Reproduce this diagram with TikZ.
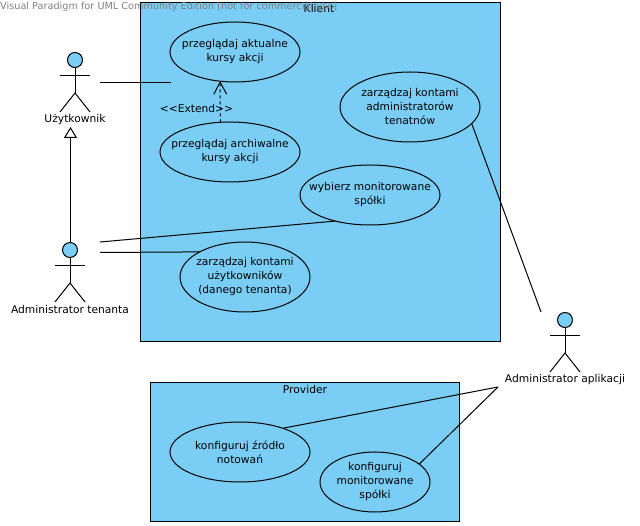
\documentclass[tikz,border=0pt]{standalone}
\usepackage{fontspec}
\setmainfont{DejaVu Sans}
\usetikzlibrary{shapes.geometric,arrows.meta}
\definecolor{blekit}{RGB}{122,206,245}
\tikzset{
  linia/.style={line width=1pt},
  przypadek/.style={draw,linia,ellipse,fill=blekit,inner sep=-12pt,outer sep=0pt,align=center},
  system/.style={draw,linia,fill=blekit,inner sep=0pt,outer sep=0pt,anchor=north west},
  etykieta/.style={inner sep=0pt,align=center},
  glowa/.style={draw,linia,circle,fill=blekit,minimum size=15pt,inner sep=0pt,outer sep=0pt}
}
% Aktor: nazwa, x, y glowy, podpis
\newcommand{\aktor}[4]{
  \node[glowa] (#1) at (#2, #3) {};
  \draw[linia] (#1.south) -- (#2, #3+33);
  \draw[linia] (#2-15, #3+16) -- (#2+15, #3+16);
  \draw[linia] (#2-15, #3+52) -- (#2, #3+33) -- (#2+15, #3+52);
  \node[etykieta] (#1Podpis) at (#2, #3+59.5) {#4};
}
\begin{document}
\begin{tikzpicture}[x=1pt, y=-1pt, font=\fontsize{10.7}{14}\selectfont]
    \useasboundingbox (0, 0) rectangle (640, 526);

    % Systemy
    \node[system, minimum width=360pt, minimum height=339pt] (klient) at (140.5, 2.5) {};
    \node[system, minimum width=309pt, minimum height=139pt] (provider) at (150.5, 382.5) {};
    \node[etykieta] (klientTytul) at (319, 9) {Klient};
    \node[etykieta] (providerTytul) at (305, 389.5) {Provider};

    % Przypadki
    \node[przypadek, minimum width=130pt, minimum height=60pt] (aktualne) at (235, 52) {przeglądaj aktualne\\kursy akcji};
    \node[przypadek, minimum width=140pt, minimum height=60pt] (archiwalne) at (230, 152) {przeglądaj archiwalne\\kursy akcji};
    \node[przypadek, minimum width=140pt, minimum height=70pt] (tenatnow) at (410, 107) {zarządzaj kontami\\administratorów\\tenatnów};
    \node[przypadek, minimum width=140pt, minimum height=60pt] (wybierz) at (370, 195) {wybierz monitorowane\\spółki};
    \node[przypadek, minimum width=130pt, minimum height=70pt] (uzytkownikow) at (245, 277) {zarządzaj kontami\\użytkowników\\(danego tenanta)};
    \node[przypadek, minimum width=140pt, minimum height=60pt] (zrodlo) at (240, 452) {konfiguruj źródło\\notowań};
    \node[przypadek, minimum width=110pt, minimum height=60pt] (monitorowane) at (375, 482) {konfiguruj\\monitorowane\\spółki};

    % Aktorzy
    \aktor{uzytkownik}{75}{60}{Użytkownik}
    \aktor{adminTenanta}{70}{250}{Administrator tenanta}
    \aktor{adminAplikacji}{565}{320}{Administrator aplikacji}

    % Końce linii przy aktorach
    \coordinate (uzytkownikPrawo) at (100, 82.5);
    \coordinate (aktualneLewo) at (171, 82.5);
    \coordinate (tenantGora) at (100, 242);
    \coordinate (tenantDol) at (100, 252.5);
    \coordinate (uzytkownikDol) at (70.5, 127);
    \coordinate (aplikacjiGora) at (541, 312);
    \coordinate (aplikacjiDol) at (498, 387);

    % Powiazania
    \draw[linia] (uzytkownikPrawo) -- (aktualneLewo);
    \draw[linia] (tenantGora) -- (wybierz.217);
    \draw[linia] (tenantDol) -- (uzytkownikow.151);
    \draw[linia] (tenatnow.-15) -- (aplikacjiGora);
    \draw[linia] (aplikacjiDol) -- (zrodlo.29);
    \draw[linia] (aplikacjiDol) -- (monitorowane.22);

    % Dziedziczenie
    \draw[linia, -{Triangle[open, length=11pt, width=13pt]}] (adminTenanta.north -| uzytkownikDol) -- (uzytkownikDol);

    % Rozszerzenie
    \draw[linia, dashed, -{Straight Barb[length=12pt, width=13pt]}] (archiwalne.108) -- (aktualne.243.6);
    \node[etykieta] (extend) at (196.5, 109) {<{}<Extend>{}>};

    % Znak wodny
    \node[etykieta, text=gray, anchor=west, font=\fontsize{9.7}{14}\selectfont] (znak) at (0, 7) {Visual Paradigm for UML Community Edition [not for commercial use]};
\end{tikzpicture}
\end{document}
